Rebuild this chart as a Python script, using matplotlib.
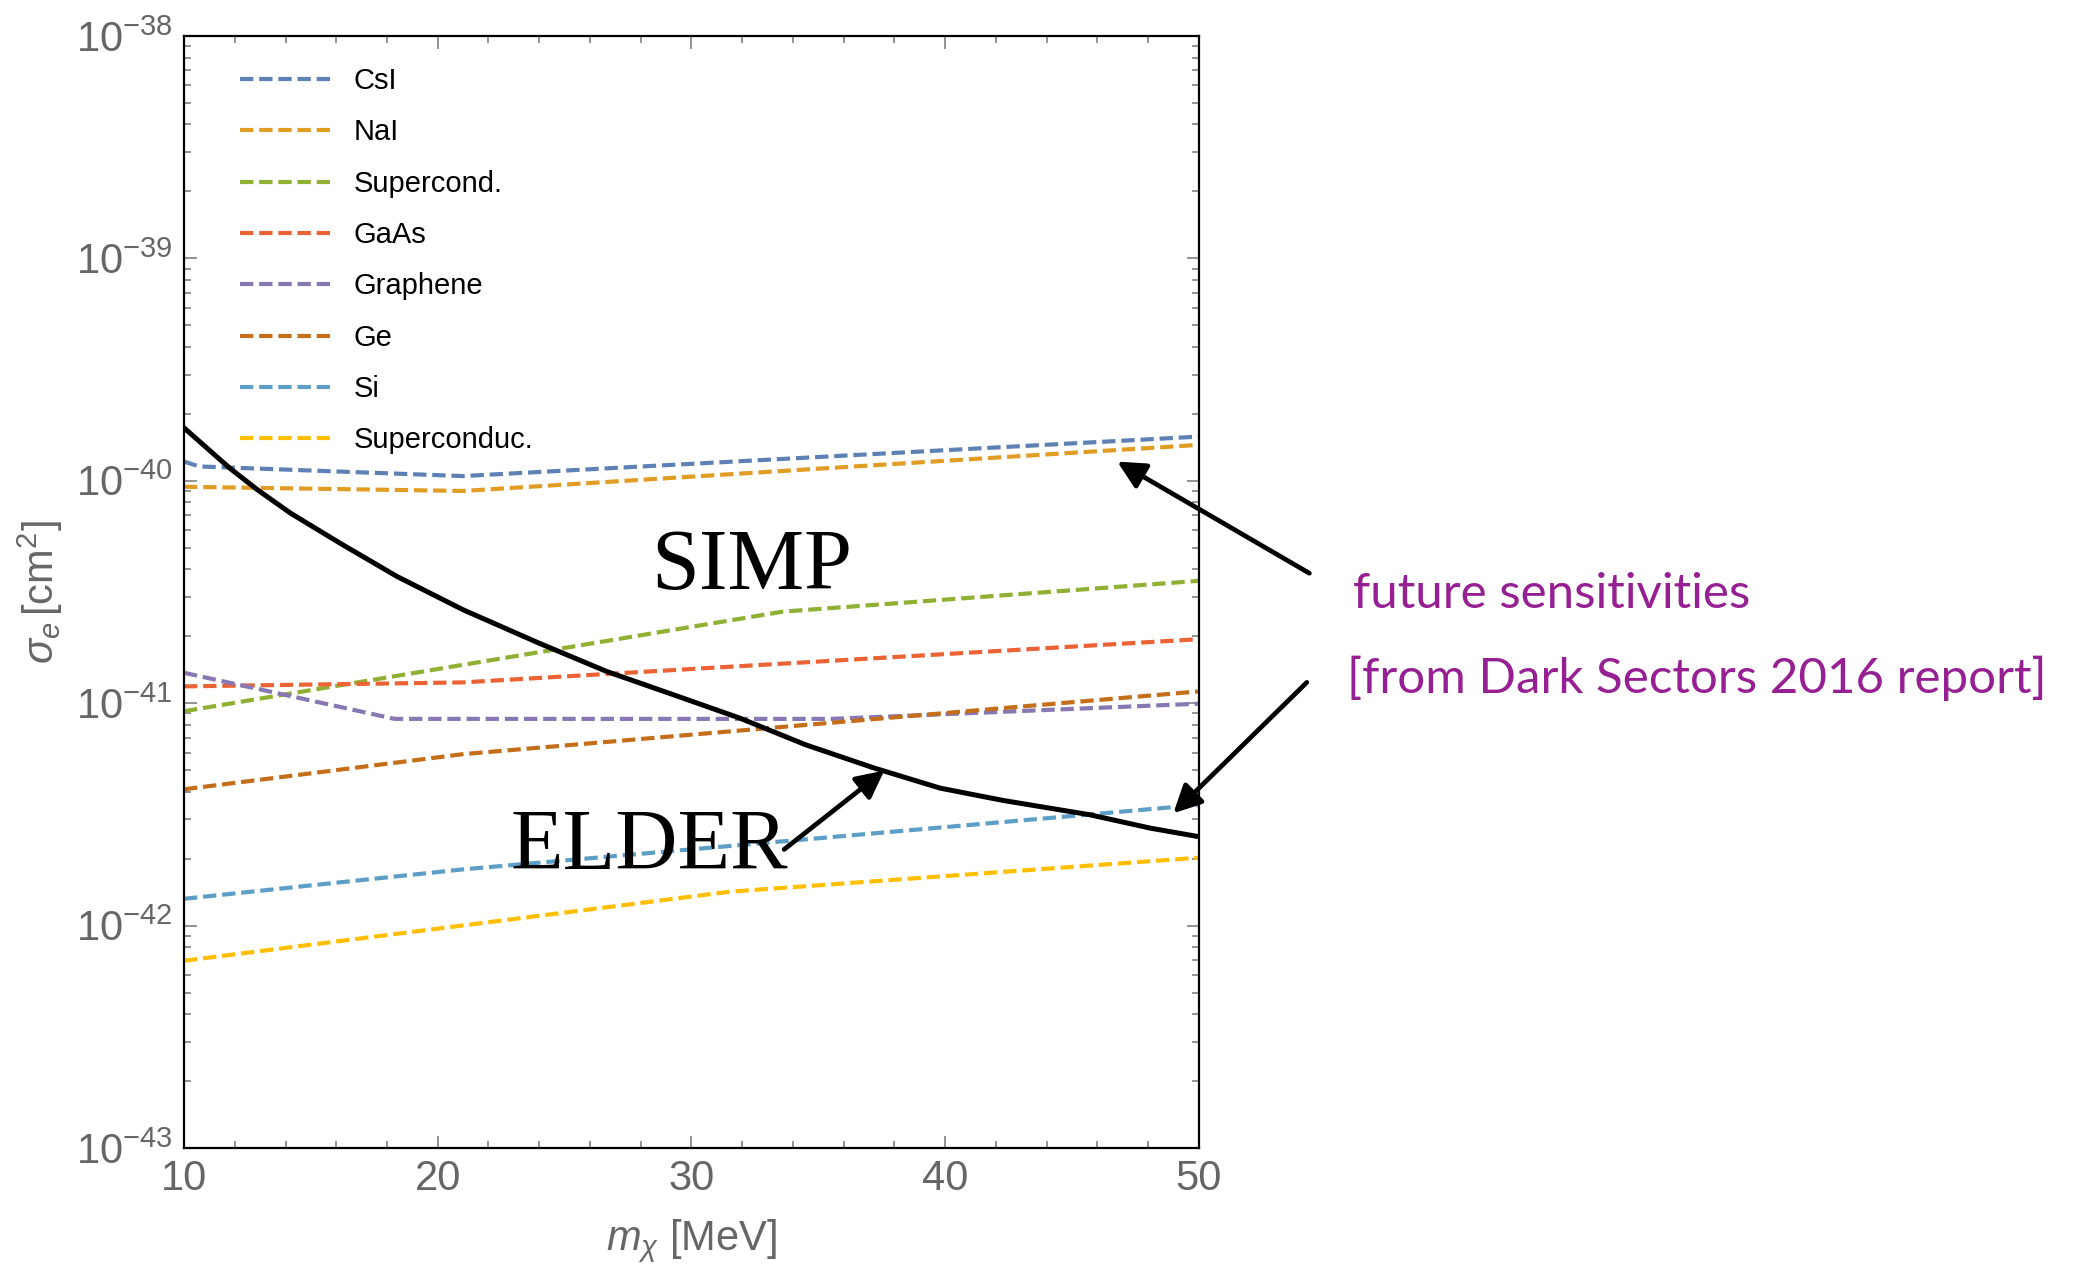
import numpy as np
import matplotlib
matplotlib.use("Agg")
import matplotlib.pyplot as plt
from matplotlib import font_manager
from matplotlib.ticker import LogLocator, MultipleLocator, NullFormatter

# projected electron-scattering reaches (Dark Sectors 2016), sigma_e in cm^2
labels = ["CsI", "NaI", "Supercond.", "GaAs", "Graphene", "Ge", "Si", "Superconduc."]
colors = ["#5E81B5", "#E19C24", "#8FB032", "#EB6235",
          "#8778B3", "#C56E1A", "#5D9EC7", "#FFBF00"]

mass_csi = [10, 10.6, 21, 50]
sigma_csi = [1.22e-40, 1.16e-40, 1.05e-40, 1.58e-40]
mass_nai = [10, 21, 50]
sigma_nai = [9.4e-41, 9.0e-41, 1.45e-40]
mass_supercond = [10, 33.6, 50]
sigma_supercond = [9.2e-42, 2.58e-41, 3.55e-41]
mass_gaas = [10, 21, 50]
sigma_gaas = [1.19e-41, 1.24e-41, 1.94e-41]
mass_graphene = [10, 18.3, 35.5, 50]
sigma_graphene = [1.37e-41, 8.5e-42, 8.5e-42, 9.95e-42]
mass_ge = [10, 21, 50]
sigma_ge = [4.1e-42, 5.9e-42, 1.13e-41]
mass_si = [10, 21, 50]
sigma_si = [1.32e-42, 1.79e-42, 3.49e-42]
mass_superconduc = [10, 31.5, 50]
sigma_superconduc = [6.95e-43, 1.42e-42, 2.02e-42]

# ELDER / SIMP boundary
elder_mass = [10, 11.8, 12.9, 14.2, 16.15, 18.4, 21, 24.0, 26.65, 29.3, 31.9,
              34.5, 37.2, 39.8, 42.3, 45.7, 48.1, 50]
elder_sigma = [1.73e-40, 1.14e-40, 9.1e-41, 7.15e-41, 5.24e-41, 3.71e-41, 2.63e-41,
               1.86e-41, 1.39e-41, 1.09e-41, 8.57e-42, 6.50e-42, 5.11e-42, 4.15e-42,
               3.65e-42, 3.15e-42, 2.74e-42, 2.51e-42]

masses = [mass_csi, mass_nai, mass_supercond, mass_gaas,
          mass_graphene, mass_ge, mass_si, mass_superconduc]
sigmas = [sigma_csi, sigma_nai, sigma_supercond, sigma_gaas,
          sigma_graphene, sigma_ge, sigma_si, sigma_superconduc]

installed = {f.name for f in font_manager.fontManager.ttflist}
sans = "Liberation Sans" if "Liberation Sans" in installed else "DejaVu Sans"
serif = "Liberation Serif" if "Liberation Serif" in installed else "DejaVu Serif"
plt.rcParams["font.family"] = [sans, "DejaVu Sans"]
plt.rcParams["mathtext.fontset"] = "custom"
plt.rcParams["mathtext.rm"] = sans
plt.rcParams["mathtext.it"] = sans + ":italic"

gray = "#666666"

fig = plt.figure(figsize=(20.91, 12.66), dpi=100)
ax = fig.add_axes([0.0880, 0.0932, 0.4854, 0.8784])

for m, s, c, lab in zip(masses, sigmas, colors, labels):
    ax.plot(m, s, color=c, lw=3.0, ls=(0, (3.2, 1.4)), label=lab)
ax.plot(elder_mass, elder_sigma, color="k", lw=3.6, solid_joinstyle="round")

ax.set_yscale("log")
ax.set_xlim(10, 50)
ax.set_ylim(1e-43, 1e-38)
ax.xaxis.set_major_locator(MultipleLocator(10))
ax.xaxis.set_minor_locator(MultipleLocator(2))
ax.yaxis.set_major_locator(LogLocator(base=10, numticks=10))
ax.yaxis.set_minor_locator(LogLocator(base=10, subs=np.arange(2, 10), numticks=20))
ax.yaxis.set_minor_formatter(NullFormatter())
ax.tick_params(which="both", direction="in", top=True, right=True,
               color="#808080", labelcolor=gray, labelsize=30, width=1.2)
ax.tick_params(which="major", length=9, pad=8)
ax.tick_params(which="minor", length=5)
for sp in ax.spines.values():
    sp.set_linewidth(1.6)
    sp.set_color("black")

ax.set_xlabel(r"$m_\chi$ [MeV]", fontsize=30, color=gray)
ax.set_ylabel(r"$\sigma_e\,[\mathrm{cm}^2]$", fontsize=30, color=gray)
ax.xaxis.set_label_coords(0.5, -0.062)
ax.yaxis.set_label_coords(-0.117, 0.50)

ax.legend(loc="upper left", bbox_to_anchor=(0.055, 0.972), frameon=False,
          fontsize=21, handlelength=3.2, handletextpad=0.7, labelspacing=0.8,
          borderaxespad=0, borderpad=0)

ax.text(28.4, 3.25e-41, "SIMP", fontsize=62, family=serif, va="baseline")
ax.text(22.87, 1.79e-42, "ELDER", fontsize=62, family=serif, va="baseline")

arrow = dict(arrowstyle="-|>", lw=3.4, color="k", mutation_scale=42,
             shrinkA=0, shrinkB=0)
ax.annotate("", xy=(37.6, 4.98e-42), xytext=(33.65, 2.2e-42), arrowprops=arrow)
ax.annotate("", xy=(46.78, 1.22e-40), xytext=(54.35, 3.84e-41),
            arrowprops=arrow, annotation_clip=False)
ax.annotate("", xy=(48.99, 3.2e-42), xytext=(54.25, 1.24e-41),
            arrowprops=arrow, annotation_clip=False)

purple = "#962093"
note_font = ["Lato", "DejaVu Sans"]
fig.text(0.647, 0.5198, "future sensitivities", fontsize=35.5, color=purple,
         family=note_font, va="baseline")
fig.text(0.644, 0.4526, "[from Dark Sectors 2016 report]", fontsize=35.5,
         color=purple, family=note_font, va="baseline")

fig.savefig("out.png", dpi=100)
